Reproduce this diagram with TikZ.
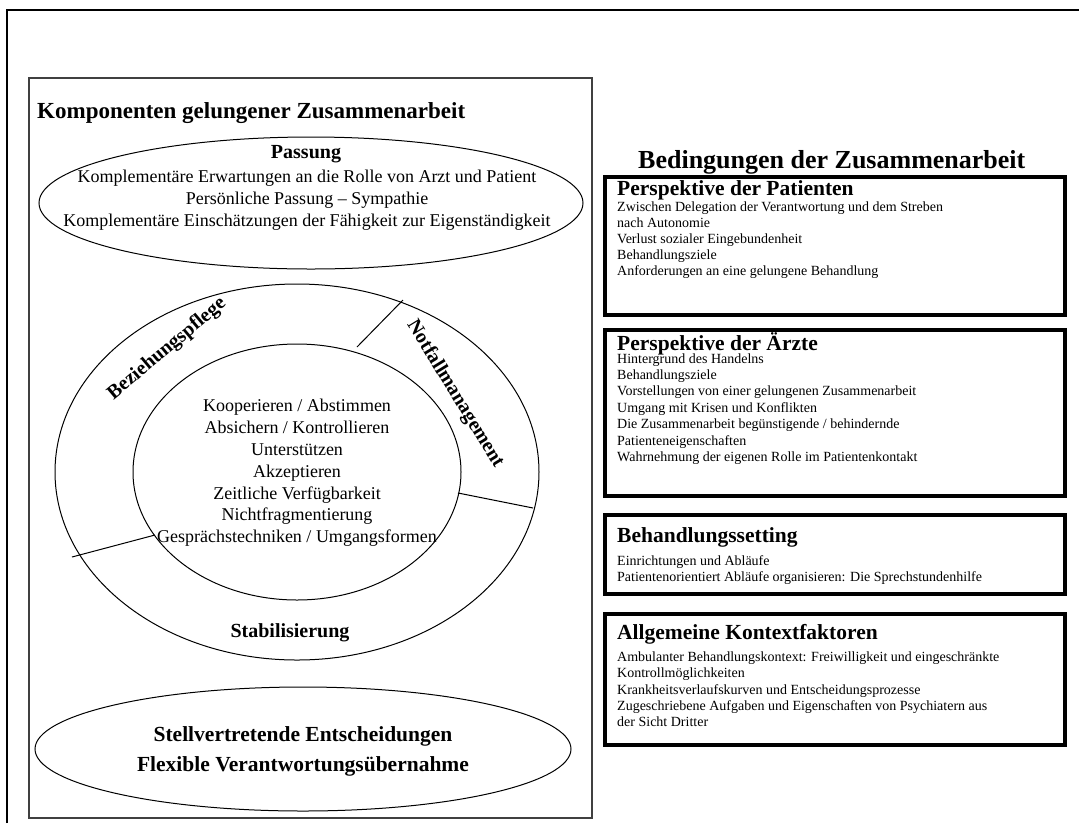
\documentclass[tikz,border=0pt]{standalone}
\usepackage{fontspec}
\setmainfont{Liberation Serif}
\usetikzlibrary{shapes.geometric}
\begin{document}
\begin{tikzpicture}[x=1pt,y=-1pt,
  frame/.style={line width=2pt},
  panel/.style={draw=black!75, line width=1.2pt},
  oval/.style={draw, ellipse, line width=1pt, inner sep=0pt},
  infobox/.style={draw, line width=3.5pt, anchor=north west, inner sep=0pt, minimum width=460pt},
  boxtitle/.style={anchor=base west, inner sep=0pt, font=\fontsize{21.5}{26}\selectfont\bfseries},
  boxline/.style={anchor=base west, inner sep=0pt, font=\fontsize{14}{16}\selectfont},
  heading/.style={inner sep=0pt, font=\fontsize{23}{27}\selectfont\bfseries},
  plain/.style={inner sep=0pt, align=center, font=\fontsize{18}{21.8}\selectfont},
  ringlabel/.style={inner sep=0pt, font=\fontsize{20}{24}\selectfont\bfseries},
]
\useasboundingbox (0,0) rectangle (1079,823);

% outer frame (open to the right and bottom)
\draw[frame] (7,823) -- (7,10) -- (1079,10);

% left panel
\draw[panel] (29,78) rectangle (592,818);
\node[heading, anchor=base west] (komp) at (37,118) {Komponenten gelungener Zusammenarbeit};

% Passung
\node[oval, minimum width=544pt, minimum height=132pt] (passung) at (311,203) {};
\node[ringlabel] (passtitle) at (306,154) {Passung};
\node[plain] (passtext) at (307,200) {Komplementäre Erwartungen an die Rolle von Arzt und Patient\\
  Persönliche Passung – Sympathie\\
  Komplementäre Einschätzungen der Fähigkeit zur Eigenständigkeit};

% ring with inner core
\node[oval, minimum width=484pt, minimum height=376pt] (outer) at (297,472) {};
\node[oval, minimum width=328pt, minimum height=256pt] (inner) at (297,472) {};
\draw[line width=1pt] (403,300) -- (357,347);
\draw[line width=1pt] (458,493) -- (533,508);
\draw[line width=1pt] (72,557) -- (155,535);

\node[ringlabel, rotate=40] (bezieh) at (167,349) {Beziehungspflege};
\node[ringlabel, rotate=-58.5] (notfall) at (455,394) {Notfallmanagement};
\node[ringlabel] (stabil) at (290,633) {Stabilisierung};

\node[plain] (core) at (297,473) {Kooperieren / Abstimmen\\
  Absichern / Kontrollieren\\
  Unterstützen\\
  Akzeptieren\\
  Zeitliche Verfügbarkeit\\
  Nichtfragmentierung\\
  Gesprächstechniken / Umgangsformen};

% Stellvertretende Entscheidungen
\node[oval, minimum width=536pt, minimum height=124pt] (stell) at (303,749) {};
\node[ringlabel, align=center, font=\fontsize{21.5}{30}\selectfont\bfseries] (stelltext) at (303,751)
  {Stellvertretende Entscheidungen\\Flexible Verantwortungsübernahme};

% right column
\node[heading, anchor=base west, font=\fontsize{26}{30}\selectfont\bfseries] (beding) at (638,168.5) {Bedingungen der Zusammenarbeit};

\node[infobox, minimum height=138pt] (box1) at (603,175) {};
\node[boxtitle] (t1) at (617,195.5) {Perspektive der Patienten};
\foreach \txt [count=\i] in {{Zwischen Delegation der Verantwortung und dem Streben},
  {nach Autonomie}, {Verlust sozialer Eingebundenheit}, {Behandlungsziele},
  {Anforderungen an eine gelungene Behandlung}}
  \node[boxline] (l1-\i) at (617,211+16.2*\i-16.2) {\txt};

\node[infobox, minimum height=166pt] (box2) at (603,328) {};
\node[boxtitle] (t2) at (617,350.5) {Perspektive der Ärzte};
\foreach \txt [count=\i] in {{Hintergrund des Handelns}, {Behandlungsziele},
  {Vorstellungen von einer gelungenen Zusammenarbeit}, {Umgang mit Krisen und Konflikten},
  {Die Zusammenarbeit begünstigende / behindernde}, {Patienteneigenschaften},
  {Wahrnehmung der eigenen Rolle im Patientenkontakt}}
  \node[boxline] (l2-\i) at (617,363+16.4*\i-16.4) {\txt};

\node[infobox, minimum height=79pt] (box3) at (603,513) {};
\node[boxtitle] (t3) at (617,542.5) {Behandlungssetting};
\foreach \txt [count=\i] in {{Einrichtungen und Abläufe},
  {Patientenorientiert Abläufe organisieren: Die Sprechstundenhilfe}}
  \node[boxline] (l3-\i) at (617,565.5+16.3*\i-16.3) {\txt};

\node[infobox, minimum height=131pt] (box4) at (603,612) {};
\node[boxtitle] (t4) at (617,639.5) {Allgemeine Kontextfaktoren};
\foreach \txt [count=\i] in {{Ambulanter Behandlungskontext: Freiwilligkeit und eingeschränkte},
  {Kontrollmöglichkeiten}, {Krankheitsverlaufskurven und Entscheidungsprozesse},
  {Zugeschriebene Aufgaben und Eigenschaften von Psychiatern aus}, {der Sicht Dritter}}
  \node[boxline] (l4-\i) at (617,661.5+16.3*\i-16.3) {\txt};
\end{tikzpicture}
\end{document}
